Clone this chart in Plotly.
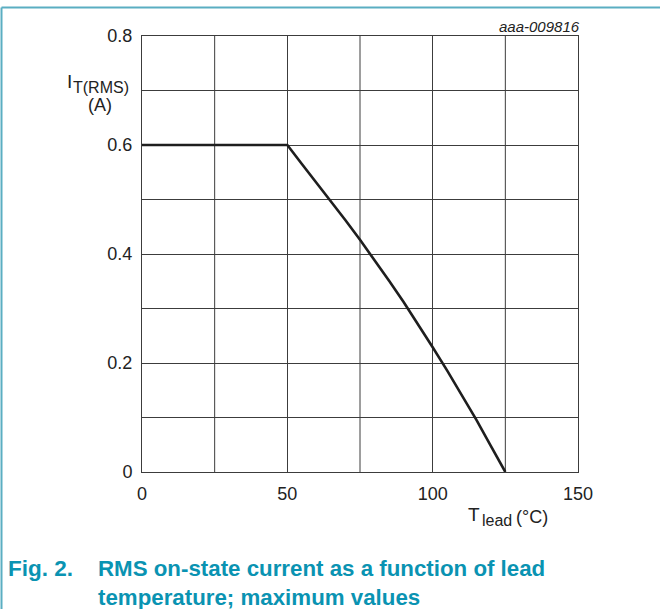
import plotly.graph_objects as go

# data
t_lead = [0, 50, 55, 60, 65, 70, 75, 80, 85, 90, 95, 100, 105, 110, 115, 120, 125]
i_rms = [0.6, 0.6, 0.565, 0.531, 0.497, 0.462, 0.426, 0.389, 0.351, 0.312, 0.271,
         0.229, 0.186, 0.142, 0.096, 0.048, 0.0]
x_ticks = [0, 50, 100, 150]
x_tick_labels = ["0", "50", "100", "150"]
y_ticks = [0, 0.2, 0.4, 0.6, 0.8]
y_tick_labels = ["0", "0.2", "0.4", "0.6", "0.8"]
x_grid = [25, 75, 125]
y_grid = [0.1, 0.3, 0.5, 0.7]

W, H = 660, 609
L, R, T, B = 142, 578, 36, 472
PW, PH = R - L, B - T


def px(x):
    return (x - L) / PW


def py(y):
    return (B - y) / PH


FONT = "Liberation Sans, Arial, sans-serif"
TEAL = "#0a93b2"
GRID = "#3c3c3c"
TXT = "#222"

fig = go.Figure()
fig.add_trace(go.Scatter(x=t_lead, y=i_rms, mode="lines",
                         line=dict(color="#1e1e1e", width=2.6),
                         showlegend=False, hoverinfo="skip"))

fig.update_layout(
    width=W, height=H,
    margin=dict(l=L, r=W - R, t=T, b=H - B, pad=0),
    paper_bgcolor="white", plot_bgcolor="white",
    font=dict(family=FONT, size=18, color=TXT),
)
fig.update_xaxes(range=[0, 150], tickvals=x_ticks, ticktext=x_tick_labels,
                 showgrid=True, gridcolor=GRID, gridwidth=1,
                 showline=True, linecolor=GRID, linewidth=1, mirror=True,
                 zeroline=False, ticks="outside", ticklen=5,
                 tickcolor="rgba(0,0,0,0)", tickfont=dict(size=18, color=TXT))
fig.update_yaxes(range=[0, 0.8], tickvals=y_ticks, ticktext=y_tick_labels,
                 showgrid=True, gridcolor=GRID, gridwidth=1,
                 showline=True, linecolor=GRID, linewidth=1, mirror=True,
                 zeroline=False, ticks="outside", ticklen=5,
                 tickcolor="rgba(0,0,0,0)", tickfont=dict(size=18, color=TXT))

shapes = []
for xv in x_grid:
    shapes.append(dict(type="line", xref="x", yref="y", x0=xv, x1=xv, y0=0, y1=0.8,
                       line=dict(color=GRID, width=1), layer="below"))
for yv in y_grid:
    shapes.append(dict(type="line", xref="x", yref="y", x0=0, x1=150, y0=yv, y1=yv,
                       line=dict(color=GRID, width=1), layer="below"))
# page border lines (teal)
shapes.append(dict(type="line", xref="paper", yref="paper",
                   x0=px(1.5), x1=px(W), y0=py(7.5), y1=py(7.5),
                   line=dict(color="#5aaec2", width=2)))
shapes.append(dict(type="line", xref="paper", yref="paper",
                   x0=px(1.5), x1=px(1.5), y0=py(7.5), y1=py(H),
                   line=dict(color="#5aaec2", width=2)))
fig.update_layout(shapes=shapes)


def txt(text, x, y, size, xanchor="left", color=TXT):
    return dict(text=text, x=px(x), y=py(y), xref="paper", yref="paper",
                xanchor=xanchor, yanchor="middle", showarrow=False, borderpad=0,
                font=dict(size=size, color=color, family=FONT))


ann = [
    txt("I", 66, 81, 19),
    txt("T(RMS)", 72, 87, 16),
    txt("(A)", 99.5, 105, 18, xanchor="center"),
    txt("T", 467, 514, 19),
    txt("lead", 481, 520, 16),
    txt("(°C)", 515, 516.5, 18),
    txt("<i>aaa-009816</i>", 581, 27, 15, xanchor="right"),
    txt("<b>Fig. 2.</b>", 7, 568, 22.5, color=TEAL),
    txt("<b>RMS on-state current as a function of lead</b>", 97, 568, 22.3, color=TEAL),
    txt("<b>temperature; maximum values</b>", 97, 597, 22.3, color=TEAL),
]
fig.update_layout(annotations=ann)

fig.write_html("out.html", config={"displayModeBar": False},
               post_script="document.body.style.margin='0';")
